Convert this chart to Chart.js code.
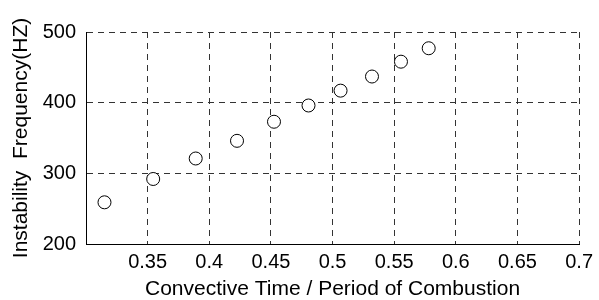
<!DOCTYPE html>
<html>
<head>
<meta charset="utf-8">
<script src="https://cdn.jsdelivr.net/npm/chart.js@4/dist/chart.umd.min.js"></script>
<style>
  html, body { margin: 0; padding: 0; background: #fff; }
  #wrap { width: 599px; height: 300px; }
</style>
</head>
<body>
<div id="wrap"><canvas id="myChart" width="599" height="300"></canvas></div>
<script>
// values
let xValues = [0.315, 0.3545, 0.389, 0.4225, 0.4525, 0.4805, 0.5065, 0.532, 0.5555, 0.578];
let yValues = [259, 292, 321, 346, 373, 396, 417, 437, 458, 477];
let xTicks = [0.35, 0.4, 0.45, 0.5, 0.55, 0.6, 0.65, 0.7];
let yTicks = [200, 300, 400, 500];

let puntos = xValues.map(function (x, i) { return { x: x, y: yValues[i] }; });

let fuenteTicks = { family: "'Liberation Sans', Arial, sans-serif", size: 20 };
let fuenteTitulo = { family: "'Liberation Sans', Arial, sans-serif", size: 21, lineHeight: 1 };

new Chart("myChart", {
    type: "scatter",
    data: {
        datasets: [{
            data: puntos,
            pointStyle: "circle",
            pointRadius: 6.5,
            pointHoverRadius: 6.5,
            pointBackgroundColor: "#ffffff",
            pointBorderColor: "#000000",
            pointBorderWidth: 1
        }]
    },
    options: {
        responsive: false,
        animation: false,
        layout: { padding: { left: 0, right: 16, top: 32, bottom: 0 } },
        plugins: {
            legend: { display: false },
            tooltip: { enabled: false }
        },
        scales: {
            x: {
                type: "linear",
                min: 0.3,
                max: 0.7,
                afterBuildTicks: function (scale) {
                    scale.ticks = [{ value: 0.3 }].concat(xTicks.map(function (v) { return { value: v }; }));
                },
                afterFit: function (scale) { scale.height = 56; },
                ticks: {
                    color: "#000",
                    font: fuenteTicks,
                    padding: 6,
                    maxRotation: 0,
                    callback: function (v) {
                        if (Math.abs(v - 0.3) < 1e-9) return "";
                        return String(+v.toFixed(2));
                    }
                },
                grid: { color: "#333", lineWidth: 1, drawTicks: false },
                border: { display: true, color: "#000", width: 1, dash: [6, 5] },
                title: {
                    display: true,
                    text: "Convective Time / Period of Combustion",
                    color: "#000",
                    font: fuenteTitulo,
                    padding: { top: 0, bottom: 0 }
                }
            },
            y: {
                type: "linear",
                min: 200,
                max: 500,
                afterBuildTicks: function (scale) {
                    scale.ticks = yTicks.map(function (v) { return { value: v }; });
                },
                afterFit: function (scale) { scale.width = 86; },
                ticks: {
                    color: "#000",
                    font: fuenteTicks,
                    padding: 10
                },
                grid: { color: "#333", lineWidth: 1, drawTicks: false },
                border: { display: true, color: "#000", width: 1, dash: [6, 5] },
                title: {
                    display: true,
                    text: "Instability  Frequency(HZ)",
                    color: "#000",
                    font: fuenteTitulo,
                    padding: { top: 11, bottom: 0 }
                }
            }
        }
    }
});
</script>
</body>
</html>
